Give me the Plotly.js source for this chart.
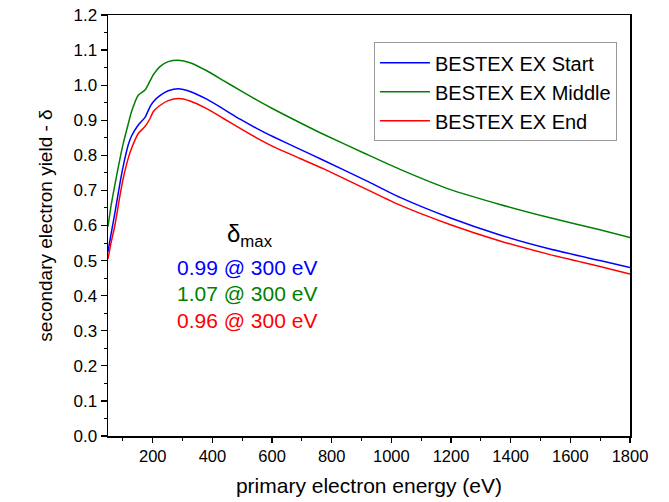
<!DOCTYPE html>
<html>
<head>
<meta charset="utf-8">
<script src="https://cdn.plot.ly/plotly-3.0.1.min.js"></script>
<style>html,body{margin:0;padding:0;background:#fff;}#chart{width:669px;height:502px;}</style>
</head>
<body>
<div id="chart"></div>
<script>
// primary electron energy (eV)
const energy = [50, 60, 73, 90, 100, 118, 129, 152, 174, 191, 202, 224, 252, 286, 325, 381, 437, 493, 548, 604, 694, 772, 917, 1029, 1196, 1364, 1532, 1699, 1800];
const yieldStart  = [0.525, 0.575, 0.635, 0.72, 0.765, 0.83, 0.855, 0.887, 0.908, 0.939, 0.953, 0.970, 0.984, 0.990, 0.982, 0.960, 0.932, 0.903, 0.877, 0.853, 0.817, 0.786, 0.727, 0.680, 0.622, 0.573, 0.533, 0.500, 0.480];
const yieldMiddle = [0.597, 0.655, 0.716, 0.79, 0.83, 0.890, 0.925, 0.972, 0.986, 1.012, 1.030, 1.053, 1.067, 1.071, 1.064, 1.041, 1.013, 0.985, 0.958, 0.932, 0.893, 0.860, 0.803, 0.760, 0.703, 0.660, 0.622, 0.588, 0.566];
const yieldEnd    = [0.505, 0.55, 0.60, 0.685, 0.73, 0.792, 0.82, 0.863, 0.882, 0.905, 0.925, 0.942, 0.956, 0.962, 0.955, 0.933, 0.905, 0.877, 0.850, 0.825, 0.791, 0.762, 0.703, 0.658, 0.603, 0.556, 0.517, 0.483, 0.462];
const seriesNames = ["BESTEX EX Start", "BESTEX EX Middle", "BESTEX EX End"];
const seriesColors = ["#0000ff", "#008000", "#ff0000"];
const maxLabels = ["0.99 @ 300 eV", "1.07 @ 300 eV", "0.96 @ 300 eV"];

const font = "Liberation Sans, Arial, sans-serif";
const ys = [yieldStart, yieldMiddle, yieldEnd];
const traces = ys.map((y, i) => ({
  x: energy, y: y, type: "scatter", mode: "lines", name: seriesNames[i],
  line: {color: seriesColors[i], width: 1.5, shape: "spline", smoothing: 0.6}
}));

const annotations = [{
  xref: "paper", yref: "paper", x: 0.272, y: 0.477, xanchor: "center", yanchor: "middle",
  text: "δ<sub>max</sub>", showarrow: false, font: {family: font, size: 24, color: "#000"}
}].concat(maxLabels.map((t, i) => ({
  xref: "paper", yref: "paper", x: 0.267, y: 0.401 - i * 0.0635, xanchor: "center", yanchor: "middle",
  text: t, showarrow: false, font: {family: font, size: 21, color: seriesColors[i]}
})));

const layout = {
  width: 669, height: 502,
  margin: {l: 108, r: 39, t: 15, b: 66},
  paper_bgcolor: "#fff", plot_bgcolor: "#fff",
  font: {family: font, color: "#000"},
  showlegend: true,
  legend: {x: 0.975, y: 0.935, xanchor: "right", yanchor: "top",
    bordercolor: "#999", borderwidth: 1, bgcolor: "#fff", itemwidth: 50,
    font: {family: font, size: 20, color: "#000"}, tracegroupgap: 0},
  xaxis: {
    range: [50, 1800], dtick: 200, tick0: 0,
    showline: true, mirror: true, linecolor: "#000", linewidth: 1.5,
    ticks: "outside", ticklen: 5, tickwidth: 1.3, tickcolor: "#000",
    minor: {dtick: 100, ticks: "outside", ticklen: 3, tickwidth: 1, tickcolor: "#000"},
    showgrid: false, zeroline: false,
    tickfont: {family: font, size: 16.5, color: "#000"},
    title: {text: "primary electron energy (eV)", font: {family: font, size: 21, color: "#000"}, standoff: 14}
  },
  yaxis: {
    range: [0, 1.2], dtick: 0.1, tick0: 0, tickformat: ".1f",
    showline: true, mirror: true, linecolor: "#000", linewidth: 1.5,
    ticks: "outside", ticklen: 6, tickwidth: 1.3, tickcolor: "#000",
    minor: {dtick: 0.05, ticks: "outside", ticklen: 3, tickwidth: 1, tickcolor: "#000"},
    showgrid: false, zeroline: false,
    tickfont: {family: font, size: 17, color: "#000"},
    title: {text: "secondary electron yield - δ", font: {family: font, size: 19, color: "#000"}, standoff: 16}
  },
  annotations: annotations
};
Plotly.newPlot("chart", traces, layout, {staticPlot: true, displayModeBar: false});
</script>
</body>
</html>
